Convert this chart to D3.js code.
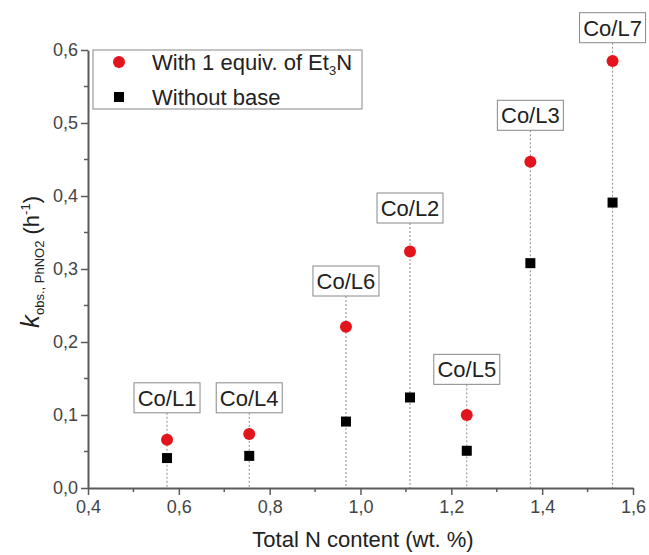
<!DOCTYPE html>
<html>
<head>
<meta charset="utf-8">
<script src="https://cdn.jsdelivr.net/npm/d3@7"></script>
<style>
  body { margin: 0; background: #fff; }
  svg { font-family: "Liberation Sans", Arial, sans-serif; }
</style>
</head>
<body>
<script>
// catalyst labels and their total N content (wt. %)
const catalysts = ['Co/L1', 'Co/L4', 'Co/L6', 'Co/L2', 'Co/L5', 'Co/L3', 'Co/L7'];
const nContent = [0.574, 0.755, 0.968, 1.109, 1.234, 1.374, 1.555];
// k_obs (h^-1)
const withBase = [0.066, 0.074, 0.221, 0.324, 0.100, 0.447, 0.585];
const withoutBase = [0.041, 0.044, 0.091, 0.124, 0.051, 0.308, 0.391];
// where each label box sits (data units, bottom edge of box)
const labelAt = [0.103, 0.103, 0.263, 0.363, 0.142, 0.490, 0.610];

const xTicks = [0.4, 0.6, 0.8, 1.0, 1.2, 1.4, 1.6];
const yTicks = [0.0, 0.1, 0.2, 0.3, 0.4, 0.5, 0.6];

const W = 649, H = 555;
const m = {top: 50, right: 16, bottom: 67, left: 88};
const axisCol = '#5a5a5a';
const red = '#e3141b';
const comma = d => d.toFixed(1).replace('.', ',');

const svg = d3.select('body').append('svg')
    .attr('width', W)
    .attr('height', H);

const x = d3.scaleLinear().domain([0.4, 1.6]).range([m.left, W - m.right]);
const y = d3.scaleLinear().domain([0, 0.6]).range([H - m.bottom, m.top]);

const data = catalysts.map((c, i) => ({
    name: c, n: nContent[i], kb: withBase[i], k0: withoutBase[i], ly: labelAt[i]
}));

// dotted drop lines
svg.append('g')
    .selectAll('line')
    .data(data)
    .enter()
    .append('line')
    .attr('x1', d => x(d.n))
    .attr('x2', d => x(d.n))
    .attr('y1', d => y(d.ly))
    .attr('y2', y(0))
    .attr('stroke', '#8a8a8a')
    .attr('stroke-width', 1)
    .attr('stroke-dasharray', '2,2');

// label boxes
const lab = svg.append('g')
    .selectAll('g')
    .data(data)
    .enter()
    .append('g')
    .attr('transform', d => 'translate(' + x(d.n) + ',' + y(d.ly) + ')');

lab.append('rect')
    .attr('x', -33)
    .attr('y', -30)
    .attr('width', 66)
    .attr('height', 30)
    .attr('fill', '#fff')
    .attr('stroke', '#888')
    .attr('stroke-width', 1);

lab.append('text')
    .attr('text-anchor', 'middle')
    .attr('y', -7)
    .attr('font-size', 22)
    .attr('fill', '#222')
    .text(d => d.name);

// axes
const xAxis = d3.axisBottom(x).tickValues(xTicks).tickFormat(comma).tickSize(7).tickSizeOuter(0);
const yAxis = d3.axisLeft(y).tickValues(yTicks).tickFormat(comma).tickSize(7).tickSizeOuter(0);

const gx = svg.append('g')
    .attr('transform', 'translate(0,' + y(0) + ')')
    .call(xAxis);
const gy = svg.append('g')
    .attr('transform', 'translate(' + m.left + ',0)')
    .call(yAxis);

// minor ticks
gx.selectAll('.minor')
    .data(d3.range(0.5, 1.6, 0.2))
    .enter()
    .append('line')
    .attr('x1', d => x(d)).attr('x2', d => x(d))
    .attr('y1', 0).attr('y2', 4)
    .attr('stroke', axisCol).attr('stroke-width', 1.5);
gy.selectAll('.minor')
    .data(d3.range(0.05, 0.6, 0.1))
    .enter()
    .append('line')
    .attr('y1', d => y(d)).attr('y2', d => y(d))
    .attr('x1', 0).attr('x2', -4)
    .attr('stroke', axisCol).attr('stroke-width', 1.5);

[gx, gy].forEach(g => {
    g.select('.domain').attr('stroke', axisCol).attr('stroke-width', 2);
    g.selectAll('.tick line').attr('stroke', axisCol).attr('stroke-width', 1.5);
    g.selectAll('.tick text')
        .attr('font-size', 18)
        .attr('fill', '#444')
        .style('font-family', '"Liberation Sans", Arial, sans-serif');
});
gx.selectAll('.tick text').attr('dy', '0.85em');
gy.selectAll('.tick text').attr('x', -10);

// points
svg.append('g')
    .selectAll('rect')
    .data(data)
    .enter()
    .append('rect')
    .attr('x', d => x(d.n) - 5)
    .attr('y', d => y(d.k0) - 5)
    .attr('width', 10)
    .attr('height', 10)
    .attr('fill', '#000');

svg.append('g')
    .selectAll('circle')
    .data(data)
    .enter()
    .append('circle')
    .attr('cx', d => x(d.n))
    .attr('cy', d => y(d.kb))
    .attr('r', 6)
    .attr('fill', red);

// legend
const lg = svg.append('g').attr('transform', 'translate(93,50)');
lg.append('rect')
    .attr('width', 269)
    .attr('height', 59)
    .attr('fill', '#fff')
    .attr('stroke', '#888')
    .attr('stroke-width', 1);
lg.append('circle').attr('cx', 26).attr('cy', 12).attr('r', 6).attr('fill', red);
lg.append('rect').attr('x', 21).attr('y', 42).attr('width', 10).attr('height', 10).attr('fill', '#000');

const t1 = lg.append('text').attr('x', 59).attr('y', 20).attr('font-size', 22).attr('fill', '#222');
t1.append('tspan').text('With 1 equiv. of Et');
t1.append('tspan').attr('font-size', 13).attr('dy', 5).text('3');
t1.append('tspan').attr('dy', -5).text('N');
lg.append('text').attr('x', 59).attr('y', 55).attr('font-size', 22).attr('fill', '#222').text('Without base');

// axis titles
svg.append('text')
    .attr('x', 363)
    .attr('y', 547)
    .attr('text-anchor', 'middle')
    .attr('font-size', 22)
    .attr('fill', '#222')
    .text('Total N content (wt. %)');

const yt = svg.append('text')
    .attr('transform', 'translate(39,262) rotate(-90)')
    .attr('text-anchor', 'middle')
    .attr('font-size', 22)
    .attr('fill', '#222');
yt.append('tspan').attr('font-style', 'italic').attr('font-size', 26).text('k');
yt.append('tspan').attr('font-size', 13).attr('dy', 5).text('obs., PhNO2');
yt.append('tspan').attr('dy', -5).text(' (h');
yt.append('tspan').attr('font-size', 13).attr('dy', -9).text('-1');
yt.append('tspan').attr('dy', 9).text(')');
</script>
</body>
</html>
